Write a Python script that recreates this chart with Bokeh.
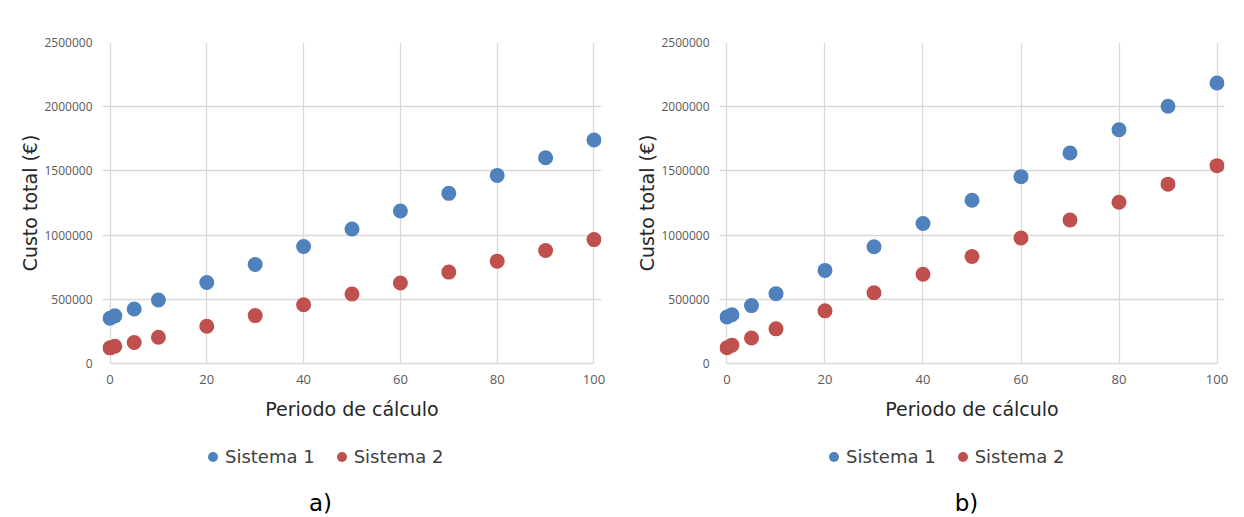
from bokeh.plotting import figure
from bokeh.models import Legend, LegendItem, FixedTicker, NumeralTickFormatter, Label, Range1d
from bokeh.layouts import row, column
from bokeh.embed import file_html
from bokeh.resources import INLINE

periodo = [0, 1, 5, 10, 20, 30, 40, 50, 60, 70, 80, 90, 100]
a_sistema1 = [352000, 371000, 425000, 494000, 631000, 771000, 911000, 1048000, 1188000, 1325000, 1465000, 1602000, 1741000]
a_sistema2 = [122000, 134000, 163000, 204000, 290000, 373000, 458000, 541000, 627000, 712000, 797000, 880000, 965000]
b_sistema1 = [362000, 380000, 451000, 544000, 725000, 909000, 1090000, 1271000, 1455000, 1639000, 1820000, 2004000, 2185000]
b_sistema2 = [123000, 143000, 199000, 270000, 410000, 551000, 695000, 833000, 977000, 1118000, 1256000, 1397000, 1541000]
x_ticks = [0, 20, 40, 60, 80, 100]
y_ticks = [0, 500000, 1000000, 1500000, 2000000, 2500000]
series_names = ["Sistema 1", "Sistema 2"]
colors = ["#4F81BD", "#C0504D"]
x_title = "Periodo de cálculo"
y_title = "Custo total (€)"
panel_labels = ["a)", "b)"]

GRID = "#D9D9D9"
TICK_FONT = "Open Sans"
TITLE_FONT = "DejaVu Sans"


def build(s1, s2, width, height, bl, br, bt, bb, xpad):
    p = figure(width=width, height=height, toolbar_location=None, output_backend="svg",
               x_range=Range1d(-xpad, 100 + xpad), y_range=Range1d(0, 2500000),
               min_border_left=bl, min_border_right=br, min_border_top=bt, min_border_bottom=bb)
    p.outline_line_color = None
    p.scatter(periodo, s1, size=15, color=colors[0], line_color=None)
    p.scatter(periodo, s2, size=15, color=colors[1], line_color=None)

    xa = p.xaxis[0]
    xa.ticker = FixedTicker(ticks=x_ticks)
    xa.bounds = (0, 100)
    xa.axis_line_color = GRID
    xa.axis_line_width = 1.5
    xa.major_tick_line_color = None
    xa.minor_tick_line_color = None
    xa.major_label_text_font = TICK_FONT
    xa.major_label_text_font_size = "13px"
    xa.major_label_text_color = "#595959"
    xa.major_label_standoff = 5
    xa.axis_label = x_title
    xa.axis_label_text_font = TITLE_FONT
    xa.axis_label_text_font_size = "19px"
    xa.axis_label_text_font_style = "normal"
    xa.axis_label_text_color = "#262626"
    xa.axis_label_standoff = 11

    ya = p.yaxis[0]
    ya.ticker = FixedTicker(ticks=y_ticks)
    ya.formatter = NumeralTickFormatter(format="0")
    ya.axis_line_color = None
    ya.major_tick_line_color = None
    ya.minor_tick_line_color = None
    ya.major_label_text_font = TICK_FONT
    ya.major_label_text_font_size = "12px"
    ya.major_label_text_color = "#595959"
    ya.major_label_standoff = 4
    ya.axis_label = y_title
    ya.axis_label_text_font = TITLE_FONT
    ya.axis_label_text_font_size = "19px"
    ya.axis_label_text_font_style = "normal"
    ya.axis_label_text_color = "#262626"
    ya.axis_label_standoff = 0

    p.xgrid[0].ticker = FixedTicker(ticks=x_ticks)
    p.ygrid[0].ticker = FixedTicker(ticks=y_ticks)
    p.grid.grid_line_color = GRID
    p.grid.grid_line_width = 1.3
    return p


pa = build(a_sistema1, a_sistema2, 633, 432, 102, 32, 41, 69, 1.55)
pb = build(b_sistema1, b_sistema2, 611, 432, 84, 20, 42, 59, 1.53)

# bottom strip: legends and panel labels
pl = figure(width=1244, height=85, toolbar_location=None, output_backend="svg",
            min_border=0, x_range=Range1d(0, 1), y_range=Range1d(0, 1))
pl.axis.visible = False
pl.grid.visible = False
pl.outline_line_color = None

legend_sets = [(a_sistema1, a_sistema2, 200), (b_sistema1, b_sistema2, 821)]
for s1, s2, lx in legend_sets:
    g1 = pl.scatter(periodo, s1, size=15, color=colors[0], line_color=None)
    g2 = pl.scatter(periodo, s2, size=15, color=colors[1], line_color=None)
    leg = Legend(items=[LegendItem(label=series_names[0], renderers=[g1]),
                        LegendItem(label=series_names[1], renderers=[g2])],
                 orientation="horizontal", location=(lx, 48),
                 border_line_color=None, background_fill_alpha=0,
                 label_text_font=TITLE_FONT, label_text_font_size="18px",
                 label_text_color="#404040", glyph_width=25, glyph_height=25,
                 label_standoff=0, spacing=14, padding=4, margin=0)
    pl.add_layout(leg, "center")

for txt, xs in zip(panel_labels, [320, 966]):
    pl.add_layout(Label(x=xs, y=2, x_units="screen", y_units="screen", text=txt,
                        text_align="center", text_baseline="bottom",
                        text_font=TITLE_FONT, text_font_size="23px", text_color="#000000"))

layout = column(row(pa, pb), pl)
open("out.html", "w").write(file_html(layout, INLINE))
